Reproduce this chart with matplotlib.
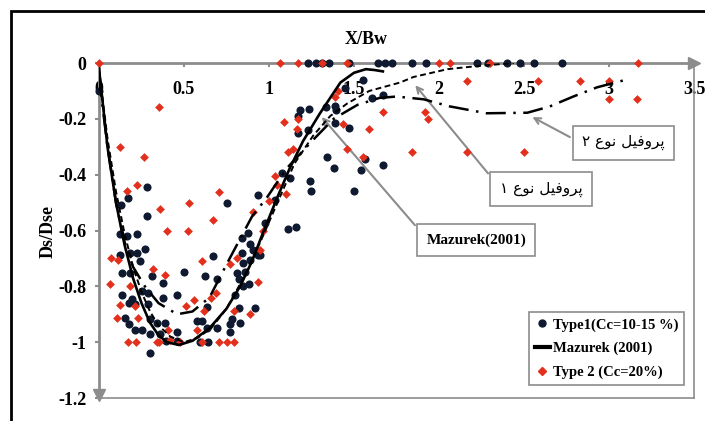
import matplotlib
matplotlib.use("Agg")
import matplotlib.pyplot as plt
from matplotlib.lines import Line2D
from matplotlib.patches import Rectangle

# values
type1_x = [0.0, 0.13,
           1.229, 1.276, 1.312, 1.353, 1.471, 1.641, 1.682, 1.724, 1.841, 1.924,
           2.224, 2.288, 2.4, 2.476, 2.559, 2.724,
           1.18, 1.235, 1.17, 1.23, 1.335, 1.39, 1.394, 1.39, 1.47, 1.34, 1.38,
           1.24, 1.25, 1.50, 1.565, 1.67, 1.54, 1.447, 1.555, 1.604, 1.67, 1.17,
           1.11, 1.16, 1.075, 1.124, 0.937, 1.035, 0.751, 0.28, 0.172, 0.28, 0.976,
           0.124, 0.163, 0.226, 0.124, 0.182, 0.226, 0.27, 0.241, 0.134, 0.185,
           0.314, 0.503, 0.624, 0.692, 0.672, 0.839, 0.878, 0.888, 0.839, 0.849,
           0.888, 0.937, 0.947, 0.908, 0.81, 0.859, 0.884, 0.849, 0.825, 0.378,
           0.134, 0.192, 0.251, 0.29, 0.378, 0.457, 0.178, 0.212, 0.29, 0.637,
           0.80, 0.825, 0.918, 0.153, 0.178, 0.212, 0.251, 0.30, 0.30, 0.388,
           0.575, 0.604, 0.457, 0.634, 0.692, 0.771, 0.829, 0.771, 0.784, 0.394,
           0.457, 0.30, 0.594, 0.643, 0.359, 0.339]
type1_y = [-0.1, -0.51,
           0, 0, 0, 0, 0, 0, 0, 0, 0, 0,
           0, 0, 0, 0, 0, 0,
           -0.168, -0.164, -0.19, -0.24, -0.156, -0.154, -0.168, -0.215, -0.232, -0.335, -0.375,
           -0.424, -0.46, -0.46, -0.344, -0.364, -0.382, -0.09, -0.061, -0.126, -0.114, -0.251,
           -0.596, -0.587, -0.394, -0.412, -0.471, -0.489, -0.50, -0.443, -0.483, -0.548, -0.573,
           -0.614, -0.62, -0.611, -0.686, -0.68, -0.679, -0.666, -0.71, -0.752, -0.752,
           -0.763, -0.749, -0.762, -0.773, -0.693, -0.627, -0.608, -0.65, -0.68, -0.715,
           -0.705, -0.689, -0.686, -0.668, -0.751, -0.749, -0.793, -0.80, -0.775, -0.787,
           -0.832, -0.846, -0.817, -0.825, -0.84, -0.832, -0.858, -0.864, -0.864, -0.873,
           -0.831, -0.876, -0.876, -0.912, -0.936, -0.956, -0.956, -0.918, -0.971, -0.932,
           -0.924, -0.924, -0.965, -0.948, -0.948, -0.936, -0.932, -0.965, -0.916, -0.995,
           -0.995, -1.037, -1.001, -0.999, -0.971, -0.932]

type2_x = [0.0, 1.064, 1.172, 1.314, 1.456, 2.0, 2.065, 2.3, 3.17,
           0.265, 0.355, 0.124, 0.163, 0.222, 0.36, 0.531, 0.707, 0.403, 0.521,
           0.672, 0.908, 0.963, 0.072, 0.109, 0.32, 0.388, 0.063, 0.185, 0.124,
           0.21, 0.108, 0.509, 0.559, 0.604, 0.657, 0.69, 0.231, 0.408, 0.575,
           0.172, 0.216, 0.339, 0.355, 0.476, 0.604, 0.708, 0.751, 0.794, 0.418,
           0.619, 0.796, 0.888, 0.81, 0.771, 0.947, 0.934,
           1.035, 1.045, 1.098, 1.0, 1.114, 1.088, 1.172, 1.166, 1.403, 1.388,
           1.437, 1.59, 1.669, 1.457, 1.555, 1.143, 1.918, 1.937, 1.84, 2.166,
           2.5, 2.166, 2.584, 2.829, 3.0, 3.0, 3.166]
type2_y = [0, 0, 0, 0, 0, 0, 0, 0, 0,
           -0.335, -0.158, -0.302, -0.457, -0.438, -0.523, -0.502, -0.462, -0.60, -0.60,
           -0.563, -0.534, -0.60, -0.698, -0.704, -0.738, -0.761, -0.793, -0.799, -0.868,
           -0.871, -0.913, -0.871, -0.85, -0.708, -0.84, -0.825, -0.912, -0.957, -0.955,
           -1.0, -1.0, -1.0, -1.0, -1.0, -1.0, -1.0, -1.0, -1.0, -0.993,
           -0.888, -0.888, -0.90, -0.698, -0.721, -0.668, -0.785,
           -0.404, -0.436, -0.469, -0.495, -0.32, -0.21, -0.201, -0.237, -0.102, -0.121,
           -0.22, -0.237, -0.177, -0.309, -0.338, -0.308, -0.177, -0.201, -0.317, -0.317,
           -0.317, -0.063, -0.063, -0.063, -0.063, -0.13, -0.13]

mazurek_x = [0, 0.05, 0.1, 0.15, 0.2, 0.25, 0.3, 0.35, 0.4, 0.47, 0.55, 0.65, 0.75,
             0.83, 0.9, 0.97, 1.05, 1.12, 1.2, 1.3, 1.42, 1.5, 1.57, 1.62, 1.67]
mazurek_y = [-0.02, -0.3, -0.5, -0.65, -0.77, -0.86, -0.93, -0.975, -1.0, -1.01, -0.995,
             -0.95, -0.88, -0.8, -0.71, -0.6, -0.48, -0.38, -0.28, -0.18, -0.07, -0.035,
             -0.022, -0.025, -0.03]

profile1_x = [0, 0.05, 0.1, 0.15, 0.2, 0.25, 0.3, 0.35, 0.42, 0.5, 0.58, 0.66, 0.75,
              0.85, 0.95, 1.05, 1.15, 1.26, 1.36, 1.46, 1.59, 1.77, 1.85, 2.05, 2.24, 2.44]
profile1_y = [-0.02, -0.27, -0.46, -0.61, -0.73, -0.82, -0.89, -0.94, -0.98, -1.0, -0.985,
              -0.95, -0.88, -0.77, -0.64, -0.5, -0.36, -0.26, -0.19, -0.145, -0.1, -0.07,
              -0.05, -0.022, -0.01, 0.0]

profile2_x = [0, 0.05, 0.1, 0.15, 0.2, 0.27, 0.35, 0.46, 0.55, 0.65, 0.76, 0.9, 0.99,
              1.1, 1.26, 1.38, 1.52, 1.65, 1.75, 1.91, 2.06, 2.28, 2.52, 2.65, 2.79, 2.93, 3.1]
profile2_y = [-0.05, -0.3, -0.5, -0.64, -0.73, -0.80, -0.86, -0.9, -0.89, -0.84, -0.71,
              -0.55, -0.48, -0.38, -0.275, -0.2, -0.15, -0.125, -0.12, -0.13, -0.155,
              -0.18, -0.178, -0.156, -0.12, -0.087, -0.06]

x_ticks = [0, 0.5, 1, 1.5, 2, 2.5, 3, 3.5]
x_tick_labels = ["0", "0.5", "1", "1.5", "2", "2.5", "3", "3.5"]
y_ticks = [0, -0.2, -0.4, -0.6, -0.8, -1, -1.2]
y_tick_labels = ["0", "-0.2", "-0.4", "-0.6", "-0.8", "-1", "-1.2"]

# persian labels, shaped by hand (presentation forms, visual order)
profile1_label = "\u06F1 \uFEC9\uFEEE\uFEE7 \uFEDE\uFEF4\uFED3\uFEED\uFEAE\uFB58"
profile2_label = "\u06F2 \uFEC9\uFEEE\uFEE7 \uFEDE\uFEF4\uFED3\uFEED\uFEAE\uFB58"

GRAY = "#8c8c8c"
NAVY = "#0f1a30"
RED = "#e2301c"
serif = {"family": "Liberation Serif", "weight": "bold"}

fig = plt.figure(figsize=(7.05, 4.21), dpi=100)
ax = fig.add_axes([0.1404, 0.0546, 0.844, 0.7957])

ax.scatter(type1_x, type1_y, s=34, color=NAVY, zorder=3, clip_on=False, linewidths=0)
ax.scatter(type2_x, type2_y, s=20, marker="D", color=RED, zorder=4, clip_on=False, linewidths=0)
ax.plot(mazurek_x, mazurek_y, color="black", lw=1.9, zorder=5)
ax.plot(profile1_x, profile1_y, color="black", lw=1.4, ls=(0, (3, 1.8)), zorder=5)
ax.plot(profile2_x, profile2_y, color="black", lw=1.8, ls=(0, (8, 3, 1, 3)), zorder=5)

ax.set_xlim(0, 3.5)
ax.set_ylim(-1.2, 0)

for side in ["left", "top"]:
    ax.spines[side].set_color(GRAY)
    ax.spines[side].set_linewidth(2)
for side in ["right", "bottom"]:
    ax.spines[side].set_color(GRAY)
    ax.spines[side].set_linewidth(1.2)

# axis arrows
ax.plot([1], [1], marker=">", ms=8, color=GRAY, transform=ax.transAxes, clip_on=False)
ax.plot([0], [0.01], marker="v", ms=8, color=GRAY, transform=ax.transAxes, clip_on=False)

ax.set_xticks(x_ticks)
ax.set_xticklabels(x_tick_labels, fontdict=serif, fontsize=13)
ax.set_yticks(y_ticks)
ax.set_yticklabels(y_tick_labels, fontdict=serif, fontsize=13)
ax.tick_params(axis="x", top=True, bottom=False, labeltop=True, labelbottom=False,
               direction="in", length=3, width=1.5, color=GRAY, pad=-25)
ax.tick_params(axis="y", direction="out", length=3, width=1.5, color=GRAY, pad=6)

fig.text(0.52, 0.905, "X/Bw", ha="center", va="center", fontsize=13, **serif)
fig.text(0.068, 0.45, "Ds/Dse", ha="center", va="center", rotation=90, fontsize=13, **serif)

box = dict(boxstyle="square,pad=0.6", fc="white", ec=GRAY, lw=1.2)
ax.annotate("Mazurek(2001)", xy=(1.30, -0.186), xytext=(2.22, -0.634),
            ha="center", va="center", fontsize=11, bbox=box, **serif,
            arrowprops=dict(arrowstyle="->", color=GRAY, lw=1.5, relpos=(0, 0.6)))
ax.annotate(profile1_label, xy=(1.85, -0.072), xytext=(2.60, -0.452),
            ha="center", va="center", fontsize=11, family=["DejaVu Sans"], bbox=box,
            arrowprops=dict(arrowstyle="->", color=GRAY, lw=1.5, relpos=(0, 0.62)))
ax.annotate(profile2_label, xy=(2.535, -0.189), xytext=(3.085, -0.286),
            ha="center", va="center", fontsize=11, family=["DejaVu Sans"], bbox=box,
            arrowprops=dict(arrowstyle="->", color=GRAY, lw=1.5, relpos=(0, 0.45)))

handles = [
    Line2D([], [], ls="none", marker="o", ms=5, color=NAVY),
    Line2D([], [], color="black", lw=3),
    Line2D([], [], ls="none", marker="D", ms=4, color=RED),
]
labels = ["Type1(Cc=10-15 %)", "Mazurek (2001)", "Type 2 (Cc=20%)"]
leg = ax.legend(handles, labels, loc="lower right", bbox_to_anchor=(0.983, 0.039),
                borderaxespad=0, fancybox=False, framealpha=1, edgecolor=GRAY,
                handlelength=1.0, handletextpad=0.2, labelspacing=0.7,
                prop={"family": "Liberation Serif", "weight": "bold", "size": 10.5})
leg.get_frame().set_linewidth(1.2)

# outer black frame of the original figure
fig.patches.append(Rectangle((0.0156, -0.1), 1.2, 1.074, transform=fig.transFigure,
                             fill=False, ec="black", lw=2))

fig.savefig("out.png", dpi=100)
